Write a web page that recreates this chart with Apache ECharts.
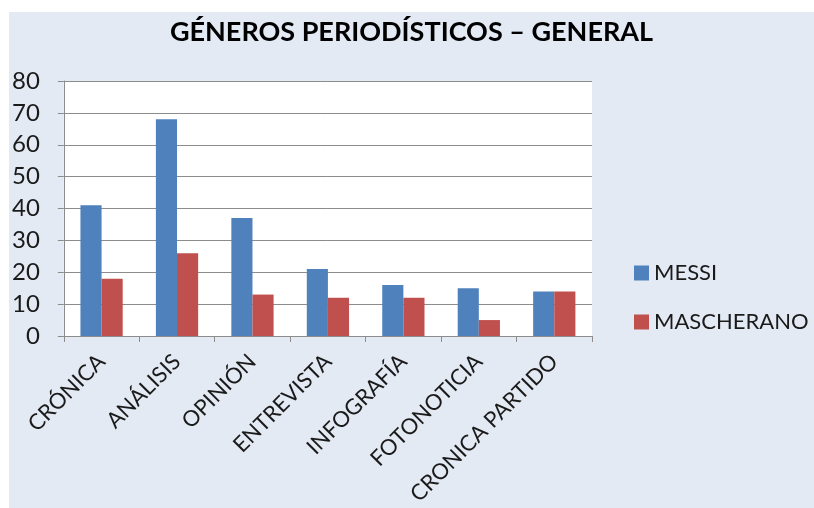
<!DOCTYPE html>
<html>
<head>
<meta charset="utf-8">
<script src="https://cdn.jsdelivr.net/npm/echarts@6/dist/echarts.min.js"></script>
<style>
  html, body { margin: 0; padding: 0; background: #ffffff; }
  #chart {
    position: absolute;
    left: 9px;
    top: 12px;
    width: 805px;
    height: 496px;
    background: #e4eaf4;
  }
</style>
</head>
<body>
<div id="chart"></div>
<script>
const categories = ['CRÓNICA', 'ANÁLISIS', 'OPINIÓN', 'ENTREVISTA', 'INFOGRAFÍA', 'FOTONOTICIA', 'CRONICA PARTIDO']
const messi = [41, 68, 37, 21, 16, 15, 14]
const mascherano = [18, 26, 13, 12, 12, 5, 14]
const seriesNames = ['MESSI', 'MASCHERANO']

const chart = echarts.init(document.getElementById('chart'))

const font = 'Lato, "Open Sans", sans-serif'

chart.setOption({
  animation: false,
  color: ['#4f81bd', '#c0504d'],
  title: {
    text: 'GÉNEROS PERIODÍSTICOS – GENERAL',
    left: 'center',
    top: 2,
    textStyle: {
      fontFamily: font,
      fontWeight: 'bold',
      fontSize: 27,
      color: '#000000'
    }
  },
  legend: {
    data: seriesNames,
    orient: 'vertical',
    left: 620,
    top: 245,
    itemWidth: 15,
    itemHeight: 15,
    itemGap: 27,
    icon: 'rect',
    textStyle: {
      fontFamily: font,
      fontSize: 22,
      color: '#1a1a1a',
      padding: [0, 0, 0, 0]
    }
  },
  grid: {
    show: true,
    left: 54,
    top: 69,
    width: 529,
    height: 255,
    backgroundColor: '#ffffff',
    borderWidth: 0,
    containLabel: false
  },
  xAxis: {
    type: 'category',
    data: categories,
    axisLine: { lineStyle: { color: '#8c8c8c', width: 1 } },
    axisTick: { show: true, length: 6, lineStyle: { color: '#8c8c8c' } },
    axisLabel: {
      rotate: 45,
      interval: 0,
      margin: 22,
      fontFamily: font,
      fontSize: 22,
      color: '#1a1a1a'
    }
  },
  yAxis: {
    type: 'value',
    min: 0,
    max: 80,
    interval: 10,
    axisLine: { show: true, lineStyle: { color: '#8c8c8c', width: 1 } },
    axisTick: { show: true, length: 6, lineStyle: { color: '#8c8c8c' } },
    splitLine: { lineStyle: { color: '#8c8c8c', width: 1 } },
    axisLabel: {
      margin: 24,
      fontFamily: font,
      fontSize: 24,
      color: '#1a1a1a'
    }
  },
  series: [
    {
      name: seriesNames[0],
      type: 'bar',
      data: messi,
      barGap: '0%',
      barCategoryGap: '44%'
    },
    {
      name: seriesNames[1],
      type: 'bar',
      data: mascherano,
      barGap: '0%',
      barCategoryGap: '44%'
    }
  ]
})
</script>
</body>
</html>
